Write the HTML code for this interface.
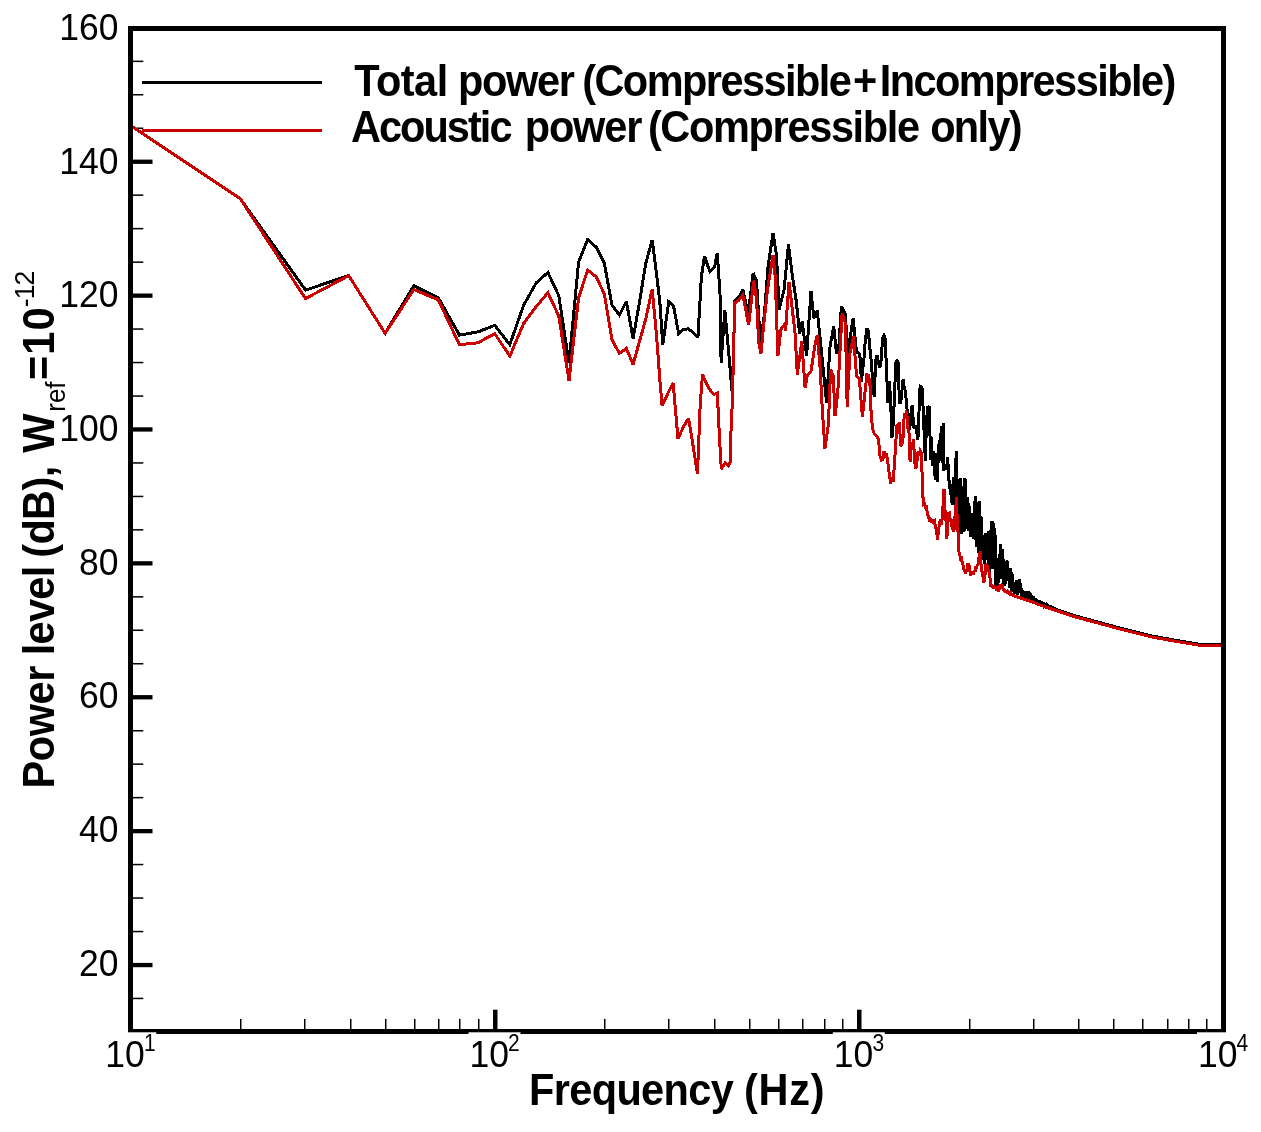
<!DOCTYPE html>
<html lang="en"><head><meta charset="utf-8"><title>Power level spectrum</title>
<style>
html,body{margin:0;padding:0;background:#fff}
body{width:1261px;height:1132px;overflow:hidden}
svg{display:block;will-change:transform}
text{font-family:"Liberation Sans",sans-serif;fill:#000}
.tk{font-size:35.5px}
.sup{font-size:21px}
.b{font-weight:bold;font-size:41.5px}
.s{font-size:26px}
</style></head><body>
<svg width="1261" height="1132" viewBox="0 0 1261 1132">
<rect width="1261" height="1132" fill="#fff"/>
<defs><clipPath id="pc"><rect x="130.7" y="28.5" width="1092.7" height="1002.9"/></clipPath></defs>
<g fill="#000">
<rect x="133.0" y="997.7" width="10.3" height="1.5"/>
<rect x="133.0" y="962.9" width="19.5" height="4.3"/>
<rect x="133.0" y="930.8" width="10.3" height="1.5"/>
<rect x="133.0" y="897.3" width="10.3" height="1.5"/>
<rect x="133.0" y="863.8" width="10.3" height="1.5"/>
<rect x="133.0" y="829.0" width="19.5" height="4.3"/>
<rect x="133.0" y="796.9" width="10.3" height="1.5"/>
<rect x="133.0" y="763.4" width="10.3" height="1.5"/>
<rect x="133.0" y="730.0" width="10.3" height="1.5"/>
<rect x="133.0" y="695.1" width="19.5" height="4.3"/>
<rect x="133.0" y="663.0" width="10.3" height="1.5"/>
<rect x="133.0" y="629.5" width="10.3" height="1.5"/>
<rect x="133.0" y="596.1" width="10.3" height="1.5"/>
<rect x="133.0" y="561.2" width="19.5" height="4.3"/>
<rect x="133.0" y="529.1" width="10.3" height="1.5"/>
<rect x="133.0" y="495.7" width="10.3" height="1.5"/>
<rect x="133.0" y="462.2" width="10.3" height="1.5"/>
<rect x="133.0" y="427.3" width="19.5" height="4.3"/>
<rect x="133.0" y="395.3" width="10.3" height="1.5"/>
<rect x="133.0" y="361.8" width="10.3" height="1.5"/>
<rect x="133.0" y="328.3" width="10.3" height="1.5"/>
<rect x="133.0" y="293.5" width="19.5" height="4.3"/>
<rect x="133.0" y="261.4" width="10.3" height="1.5"/>
<rect x="133.0" y="227.9" width="10.3" height="1.5"/>
<rect x="133.0" y="194.4" width="10.3" height="1.5"/>
<rect x="133.0" y="159.6" width="19.5" height="4.3"/>
<rect x="133.0" y="127.5" width="10.3" height="1.5"/>
<rect x="133.0" y="94.0" width="10.3" height="1.5"/>
<rect x="133.0" y="60.6" width="10.3" height="1.5"/>
<rect x="240" y="1018.9" width="1.5" height="10.2"/>
<rect x="304" y="1018.9" width="1.5" height="10.2"/>
<rect x="350" y="1018.9" width="1.5" height="10.2"/>
<rect x="385" y="1018.9" width="1.5" height="10.2"/>
<rect x="414" y="1018.9" width="1.5" height="10.2"/>
<rect x="438" y="1018.9" width="1.5" height="10.2"/>
<rect x="459" y="1018.9" width="1.5" height="10.2"/>
<rect x="478" y="1018.9" width="1.5" height="10.2"/>
<rect x="493" y="1009.7" width="4.5" height="19.4"/>
<rect x="604" y="1018.9" width="1.5" height="10.2"/>
<rect x="668" y="1018.9" width="1.5" height="10.2"/>
<rect x="714" y="1018.9" width="1.5" height="10.2"/>
<rect x="749" y="1018.9" width="1.5" height="10.2"/>
<rect x="778" y="1018.9" width="1.5" height="10.2"/>
<rect x="802" y="1018.9" width="1.5" height="10.2"/>
<rect x="824" y="1018.9" width="1.5" height="10.2"/>
<rect x="842" y="1018.9" width="1.5" height="10.2"/>
<rect x="857" y="1009.7" width="4.5" height="19.4"/>
<rect x="969" y="1018.9" width="1.5" height="10.2"/>
<rect x="1033" y="1018.9" width="1.5" height="10.2"/>
<rect x="1078" y="1018.9" width="1.5" height="10.2"/>
<rect x="1113" y="1018.9" width="1.5" height="10.2"/>
<rect x="1142" y="1018.9" width="1.5" height="10.2"/>
<rect x="1167" y="1018.9" width="1.5" height="10.2"/>
<rect x="1188" y="1018.9" width="1.5" height="10.2"/>
<rect x="1206" y="1018.9" width="1.5" height="10.2"/>
</g>
<rect x="142" y="81" width="180" height="3" fill="#000"/>
<rect x="142" y="129" width="180" height="3" fill="#cc0000"/>
<g fill="none" stroke-linejoin="miter" stroke-miterlimit="2.5" shape-rendering="crispEdges" clip-path="url(#pc)">
<path stroke="#000" stroke-width="3.0" d="M130.5 125.5 L240.1 198.5 L305.6 290.1 L348.7 275.6 L385.1 333.3 L413.9 285.6 L438.3 297.7 L459.4 335.1 L478.0 331.9 L494.7 325.3 L509.8 344.7 L523.5 305.6 L536.2 282.8 L547.9 272.5 L558.8 295.7 L569.0 363.3 L578.6 261.9 L587.6 239.7 L596.2 247.1 L604.3 263.2 L612.0 305.2 L619.4 315.1 L626.4 301.5 L633.1 338.6 L639.6 301.5 L645.8 263.2 L652.2 239.9 L656.6 274.2 L659.9 302.9 L662.8 344.9 L668.7 301.8 L673.6 306.2 L678.7 333.9 L683.5 329.4 L688.2 328.8 L693.0 332.3 L697.9 337.6 L701.4 276.4 L704.5 256.1 L709.8 271.5 L714.7 266.5 L717.3 252.8 L720.0 294.1 L721.1 362.5 L724.9 310.6 L728.8 353.6 L732.2 393.4 L733.7 342.6 L735.0 300.6 L738.8 297.3 L742.8 289.6 L748.3 313.9 L753.1 273.0 L756.5 280.7 L760.4 342.6 L764.2 316.1 L768.2 265.2 L773.0 233.2 L776.4 254.2 L779.2 309.4 L784.1 289.6 L788.5 244.3 L791.8 271.9 L796.2 300.6 L799.6 333.8 L802.2 321.6 L806.6 355.9 L811.0 291.3 L813.9 318.3 L817.2 310.6 L822.2 358.4 L826.6 402.6 L829.9 347.3 L833.7 326.4 L836.6 354.0 L838.8 347.3 L841.4 306.5 L845.4 314.2 L847.6 354.0 L853.1 318.6 L856.5 351.8 L859.8 354.0 L861.5 382.1 L862.3 372.3 L863.8 360.9 L865.4 339.0 L866.9 328.5 L868.4 331.5 L869.9 348.4 L871.3 361.8 L872.8 382.3 L874.2 396.9 L875.7 360.0 L877.1 355.0 L878.5 362.4 L879.9 368.1 L881.3 358.9 L882.6 338.0 L884.0 335.6 L885.3 339.3 L886.7 375.1 L888.0 402.6 L889.3 381.1 L890.6 399.4 L891.9 438.0 L893.2 424.1 L894.5 396.2 L895.7 363.4 L897.0 359.9 L898.2 362.4 L899.4 402.8 L900.7 402.7 L901.9 391.5 L903.1 379.5 L904.3 388.0 L905.5 391.4 L906.6 406.2 L907.8 414.3 L909.0 429.6 L910.1 425.4 L911.3 409.1 L912.4 405.4 L913.5 426.2 L914.6 428.8 L915.7 425.4 L916.8 432.5 L917.9 439.7 L919.0 412.1 L920.1 386.0 L921.2 386.6 L922.2 388.8 L923.3 412.2 L924.4 439.2 L925.4 460.9 L926.4 424.2 L927.5 407.7 L928.5 407.6 L929.4 406.1 L930.5 459.8 L931.5 437.2 L932.5 465.9 L933.5 451.2 L934.5 471.9 L935.5 479.9 L936.5 452.8 L937.4 481.9 L938.4 451.0 L939.3 440.3 L940.3 461.2 L941.2 425.6 L942.2 462.5 L943.1 422.9 L944.0 470.5 L945.0 464.5 L945.9 467.5 L946.8 468.3 L947.7 456.7 L948.6 477.7 L949.5 484.0 L950.4 493.1 L951.3 493.2 L952.1 504.5 L953.0 483.9 L953.9 476.7 L954.8 505.4 L955.6 464.6 L956.5 451.0 L957.3 515.3 L958.2 522.9 L959.0 479.3 L959.9 534.2 L960.7 478.5 L961.5 534.4 L962.4 493.9 L963.2 486.4 L964.0 532.4 L964.8 478.1 L965.6 481.3 L966.4 528.6 L967.2 497.3 L968.0 502.7 L968.8 531.1 L969.6 506.4 L970.4 536.6 L971.2 532.3 L971.9 513.6 L972.7 516.2 L973.5 539.2 L974.3 537.1 L975.0 500.8 L975.8 496.0 L976.5 545.5 L977.3 546.1 L978.0 501.9 L978.8 553.1 L979.5 500.7 L980.3 547.3 L981.0 516.4 L981.7 552.8 L982.4 560.1 L983.2 535.2 L983.9 539.8 L984.6 563.8 L985.3 538.6 L986.0 532.7 L986.7 554.6 L987.4 559.9 L988.1 531.3 L988.8 571.1 L989.5 571.7 L990.2 530.4 L990.9 565.4 L991.6 520.7 L992.3 569.4 L993.0 521.2 L993.6 569.0 L994.3 527.7 L995.0 532.8 L995.7 586.5 L996.3 558.8 L997.0 585.7 L997.7 558.3 L998.3 582.9 L999.0 575.8 L999.6 554.5 L1000.3 578.6 L1000.9 544.0 L1001.6 573.5 L1002.2 574.2 L1002.8 549.4 L1003.5 583.1 L1004.1 585.7 L1004.7 562.6 L1005.4 583.5 L1006.0 579.6 L1006.6 561.0 L1007.2 561.7 L1007.9 580.5 L1008.5 570.0 L1009.1 572.3 L1009.7 587.8 L1010.3 584.2 L1010.9 567.8 L1011.5 590.5 L1012.1 574.4 L1012.7 590.7 L1013.3 591.0 L1013.9 587.8 L1014.5 593.9 L1015.1 586.2 L1015.7 581.7 L1016.3 591.8 L1016.9 579.6 L1017.5 594.8 L1018.0 580.1 L1018.6 591.3 L1019.2 579.0 L1019.8 593.2 L1020.3 583.1 L1020.9 586.8 L1021.5 595.7 L1022.0 596.4 L1022.6 590.4 L1023.2 596.6 L1023.7 595.7 L1024.3 592.0 L1024.8 597.0 L1025.4 591.5 L1025.9 597.0 L1026.5 597.4 L1027.0 593.0 L1027.6 599.3 L1028.1 591.4 L1028.7 599.1 L1029.2 592.5 L1029.8 598.6 L1030.3 599.9 L1030.8 593.4 L1031.4 599.4 L1031.9 595.8 L1032.4 601.1 L1033.0 601.9 L1033.5 596.5 L1034.0 602.3 L1034.5 602.1 L1035.0 598.0 L1035.6 602.1 L1036.1 599.6 L1036.6 602.4 L1037.1 602.8 L1037.6 600.6 L1038.1 603.8 L1038.6 601.3 L1039.2 601.3 L1039.7 604.3 L1040.2 602.2 L1040.7 604.3 L1041.2 604.7 L1041.7 603.0 L1042.2 602.7 L1042.7 604.8 L1043.2 605.5 L1043.7 603.7 L1044.1 605.3 L1044.6 604.2 L1045.1 604.6 L1045.6 605.7 L1046.1 604.9 L1046.6 606.1 L1047.1 606.2 L1047.5 605.5 L1048.0 606.3 L1048.5 606.4 L1049.0 606.0 L1049.5 606.2 L1049.9 606.8 L1050.4 607.0 L1050.9 606.8 L1051.3 607.1 L1051.8 607.2 L1052.3 607.4 L1052.7 607.6 L1053.2 607.8 L1053.7 608.0 L1054.1 608.3 L1054.6 608.5 L1055.0 608.9 L1076.0 616.1 L1118.0 627.5 L1152.3 636.1 L1180.8 641.2 L1201.8 644.6 L1222.0 645.0"/>
<path stroke="#cc0000" stroke-width="3.0" d="M130.5 125.5 L240.1 198.5 L305.5 298.6 L348.7 275.6 L385.1 333.3 L413.9 289.5 L438.3 299.9 L459.4 344.7 L478.0 342.8 L494.7 333.6 L509.8 356.1 L523.5 323.7 L536.2 306.6 L547.9 292.7 L558.8 316.1 L569.0 380.6 L578.6 297.8 L587.6 270.1 L596.2 276.7 L604.3 294.1 L612.0 339.8 L619.4 353.4 L626.4 348.4 L633.1 364.5 L639.6 341.0 L645.8 318.8 L652.2 289.2 L656.6 336.1 L659.9 380.3 L662.1 405.7 L668.3 392.4 L673.1 382.9 L678.0 438.8 L683.5 426.7 L688.6 418.3 L693.0 445.5 L697.5 473.8 L700.1 406.8 L702.5 374.1 L705.9 382.5 L709.8 389.6 L713.8 394.6 L717.3 393.1 L719.6 439.9 L721.3 469.1 L725.3 462.5 L728.4 465.6 L730.8 461.2 L731.0 431.0 L732.6 395.6 L733.7 342.6 L735.0 302.8 L738.8 300.2 L742.8 295.1 L748.7 324.9 L753.6 280.7 L756.5 298.4 L758.7 342.6 L760.9 353.6 L764.2 320.5 L767.5 289.6 L773.0 255.3 L775.2 276.3 L777.9 355.9 L780.8 329.3 L784.1 324.9 L785.6 330.4 L789.0 281.8 L791.8 305.0 L795.1 333.8 L797.3 374.6 L801.8 341.5 L805.1 387.9 L807.3 375.7 L811.0 371.3 L814.6 347.0 L817.2 334.9 L819.9 364.7 L822.2 407.0 L824.9 449.0 L828.4 424.7 L830.6 369.4 L833.3 376.1 L835.0 415.9 L837.7 393.8 L842.1 313.1 L845.4 323.0 L847.2 407.0 L849.8 354.0 L853.6 336.3 L856.5 376.1 L859.3 378.3 L862.4 417.0 L865.3 389.3 L866.9 374.5 L868.4 375.2 L869.9 382.7 L871.3 417.6 L872.8 429.2 L874.2 433.9 L875.7 435.4 L877.1 436.4 L878.5 439.3 L879.9 455.6 L881.3 460.2 L882.6 459.5 L884.0 451.5 L885.3 456.3 L886.7 455.2 L888.0 463.8 L889.3 473.8 L890.6 483.5 L891.9 477.7 L893.2 481.7 L894.5 463.0 L895.7 443.8 L897.0 424.7 L898.2 426.8 L899.4 422.1 L900.7 446.2 L901.9 444.7 L903.1 437.1 L904.3 413.2 L905.5 414.8 L906.6 410.7 L907.8 427.5 L909.0 432.8 L910.1 462.1 L911.3 445.9 L912.4 445.4 L913.5 439.4 L914.6 460.2 L915.7 469.1 L916.8 463.2 L917.9 453.4 L919.0 454.1 L920.1 450.6 L921.2 452.3 L922.2 476.8 L923.3 504.5 L924.4 503.6 L925.4 506.9 L926.4 505.7 L927.5 514.7 L928.5 515.7 L929.5 522.0 L930.5 517.8 L931.5 523.1 L932.5 519.3 L933.5 522.3 L934.5 521.3 L935.5 527.6 L936.5 527.9 L937.4 539.6 L938.4 531.8 L939.3 525.2 L940.3 519.2 L941.2 524.7 L942.2 518.9 L943.1 504.1 L944.0 489.0 L945.0 510.2 L945.9 518.1 L946.8 539.1 L947.7 525.4 L948.6 513.3 L949.5 512.9 L950.4 522.1 L951.3 519.1 L952.1 527.7 L953.0 529.1 L953.9 531.3 L954.8 517.5 L955.6 512.0 L956.5 496.8 L957.3 524.1 L958.2 534.5 L959.0 551.9 L959.9 555.6 L960.7 559.6 L961.5 558.8 L962.4 563.7 L963.2 565.5 L964.0 570.3 L964.8 570.9 L965.6 573.7 L966.4 570.1 L967.2 569.4 L968.0 563.2 L968.8 569.1 L969.6 568.2 L970.4 575.5 L971.2 572.8 L971.9 574.9 L972.7 571.4 L973.5 574.2 L974.3 570.6 L975.0 572.1 L975.8 566.6 L976.5 568.8 L977.3 564.9 L978.0 564.7 L978.8 558.4 L979.5 556.1 L980.3 551.4 L981.0 563.6 L981.7 569.0 L982.4 574.8 L983.2 577.0 L983.9 582.7 L984.6 577.8 L985.3 573.2 L986.0 564.2 L986.7 565.0 L987.4 565.8 L988.1 570.6 L988.8 570.4 L989.5 576.5 L990.2 578.5 L990.9 585.6 L991.6 585.7 L992.3 586.3 L993.0 585.3 L993.6 588.7 L994.3 586.8 L995.0 588.5 L995.7 586.9 L996.3 588.6 L997.0 587.6 L997.7 588.9 L998.3 588.0 L999.0 589.6 L999.6 588.3 L1000.3 588.0 L1000.9 585.1 L1001.6 584.9 L1002.2 585.0 L1002.8 588.5 L1003.5 589.2 L1004.1 591.3 L1004.7 590.3 L1005.4 591.7 L1006.0 591.4 L1006.6 592.1 L1007.2 591.2 L1007.9 592.1 L1008.5 591.9 L1009.1 593.0 L1009.7 592.5 L1010.3 593.9 L1010.9 593.4 L1011.5 594.6 L1012.8 595.5 L1019.4 597.7 L1026.1 599.9 L1032.7 602.1 L1040.0 605.0 L1050.0 608.5 L1076.0 617.1 L1118.0 628.5 L1152.3 637.1 L1180.8 642.2 L1201.8 645.6 L1222.0 646.0"/>
</g>
<rect x="130.7" y="28.5" width="1092.7" height="1002.9" fill="none" stroke="#000" stroke-width="4.6" shape-rendering="crispEdges"/>
<text transform="translate(118.4 975.8) scale(1 1.05)" text-anchor="end" class="tk">20</text>
<text transform="translate(118.4 842.1) scale(1 1.05)" text-anchor="end" class="tk">40</text>
<text transform="translate(118.4 708.4) scale(1 1.05)" text-anchor="end" class="tk">60</text>
<text transform="translate(118.4 574.7) scale(1 1.05)" text-anchor="end" class="tk">80</text>
<text transform="translate(118.4 441.0) scale(1 1.05)" text-anchor="end" class="tk">100</text>
<text transform="translate(118.4 307.2) scale(1 1.05)" text-anchor="end" class="tk">120</text>
<text transform="translate(118.4 173.5) scale(1 1.05)" text-anchor="end" class="tk">140</text>
<text transform="translate(118.4 39.8) scale(1 1.05)" text-anchor="end" class="tk">160</text>
<rect x="104.3" y="1032.3" width="52" height="4" fill="#fff"/>
<text transform="translate(105.3 1067.4) scale(1 1.05)" class="tk">10</text><text transform="translate(143.9 1050.9) scale(1 1.15)" class="sup">1</text>
<rect x="468.5" y="1032.3" width="52" height="4" fill="#fff"/>
<text transform="translate(469.5 1067.4) scale(1 1.05)" class="tk">10</text><text transform="translate(508.1 1050.9) scale(1 1.15)" class="sup">2</text>
<rect x="832.8" y="1032.3" width="52" height="4" fill="#fff"/>
<text transform="translate(833.8 1067.4) scale(1 1.05)" class="tk">10</text><text transform="translate(872.4 1050.9) scale(1 1.15)" class="sup">3</text>
<rect x="1197.0" y="1032.3" width="52" height="4" fill="#fff"/>
<text transform="translate(1198.0 1067.4) scale(1 1.05)" class="tk">10</text><text transform="translate(1236.6 1050.9) scale(1 1.15)" class="sup">4</text>
<text transform="translate(354.2 95.8) scale(1 1.05)" class="b" textLength="94.0" lengthAdjust="spacing">Total</text>
<text transform="translate(458.0 95.8) scale(1 1.05)" class="b" textLength="117.0" lengthAdjust="spacing">power</text>
<text transform="translate(582.2 95.8) scale(1 1.05)" class="b" textLength="269.6" lengthAdjust="spacing">(Compressible</text>
<text transform="translate(853.1 95.8) scale(1 1.05)" class="b" textLength="21.9" lengthAdjust="spacing">+</text>
<text transform="translate(879.7 95.8) scale(1 1.05)" class="b" textLength="296.6" lengthAdjust="spacing">Incompressible)</text>
<text transform="translate(350.9 142.3) scale(1 1.05)" class="b" textLength="161.6" lengthAdjust="spacing">Acoustic</text>
<text transform="translate(524.7 142.3) scale(1 1.05)" class="b" textLength="117.6" lengthAdjust="spacing">power</text>
<text transform="translate(647.9 142.3) scale(1 1.05)" class="b" textLength="272.2" lengthAdjust="spacing">(Compressible</text>
<text transform="translate(930.2 142.3) scale(1 1.05)" class="b" textLength="92.4" lengthAdjust="spacing">only)</text>
<text transform="translate(529.0 1105.4) scale(1 1.05)" class="b" textLength="204.8" lengthAdjust="spacing">Frequency</text>
<text transform="translate(743.9 1105.4) scale(1 1.05)" class="b" textLength="80.7" lengthAdjust="spacing">(Hz)</text>
<g transform="translate(54.2,786.8) rotate(-90) scale(1 1.05)">
<text x="-1.6" y="0" class="b" textLength="122.8" lengthAdjust="spacing">Power</text>
<text x="131.5" y="0" class="b" textLength="89.6" lengthAdjust="spacing">level</text>
<text x="229" y="0" class="b" textLength="92" lengthAdjust="spacing">(dB),</text>
<text x="334" y="0" class="b">W</text>
<text x="375.1" y="10.1" class="s" textLength="30.2" lengthAdjust="spacing">ref</text>
<text x="406.9" y="0" class="b" textLength="72.4" lengthAdjust="spacing">=10</text>
<text x="479.6" y="-19.4" class="s" style="font-size:26.5px" textLength="36.4" lengthAdjust="spacing">-12</text>
</g>
</svg>
</body></html>
